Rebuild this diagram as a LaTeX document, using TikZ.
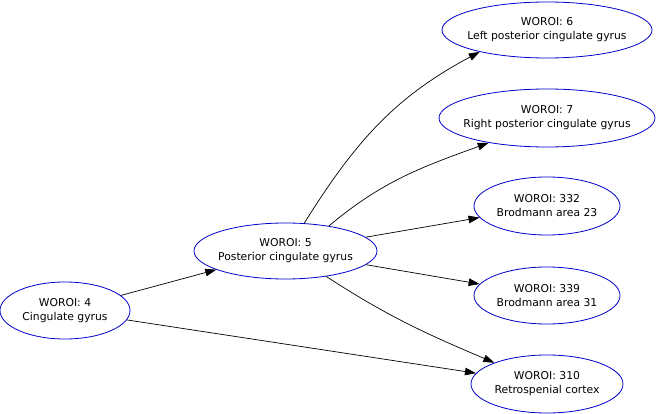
\documentclass[tikz,border=0pt]{standalone}
\usepackage{fontspec}
\setmainfont{DejaVu Sans}
\usetikzlibrary{shapes.geometric,arrows.meta}
\colorlet{linec}{blue!80!black}
\tikzstyle{roimap} = [
  x=1pt, y=1pt,
  font=\fontsize{10.8}{14}\selectfont,
]
\tikzstyle{roi} = [
  ellipse,
  draw=linec,
  line width=0.8pt,
  inner xsep=-10pt,
  inner ysep=0pt,
  align=center,
]
\tikzstyle{link} = [
  line width=0.7pt,
  -{Triangle[length=11pt,width=7.5pt]},
]

\begin{document}
\begin{tikzpicture}[roimap]
      \def\rh{56pt}

      \useasboundingbox (0,0) rectangle (656,-414);

      % Regions
      \node[roi, minimum width=130pt, minimum height=57pt] (r4) at (65,-310.5) {WOROI: 4\\Cingulate gyrus};
      \node[roi, minimum width=183pt, minimum height=\rh] (r5) at (285.5,-251) {WOROI: 5\\Posterior cingulate gyrus};
      \node[roi, minimum width=210pt, minimum height=\rh] (r6) at (547,-30) {WOROI: 6\\Left posterior cingulate gyrus};
      \node[roi, minimum width=216pt, minimum height=58pt] (r7) at (547,-118) {WOROI: 7\\Right posterior cingulate gyrus};
      \node[roi, minimum width=146pt, minimum height=58pt] (r332) at (547,-206) {WOROI: 332\\Brodmann area 23};
      \node[roi, minimum width=146pt, minimum height=57pt] (r339) at (547,-295.5) {WOROI: 339\\Brodmann area 31};
      \node[roi, minimum width=152pt, minimum height=58pt] (r310) at (547,-384) {WOROI: 310\\Retrospenial cortex};

      % Links
      \draw[link] (r4) -- (r5);
      \draw[link] (r4) -- (r310);
      \draw[link] (r5.56) to[out=58, in=208] (r6.198);
      \draw[link] (r5.30) to[out=40, in=200] (r7.203);
      \draw[link] (r5) -- (r332);
      \draw[link] (r5) -- (r339);
      \draw[link] (r5.-32) to[out=-33, in=157] (r310.158);
    \end{tikzpicture}
\end{document}
